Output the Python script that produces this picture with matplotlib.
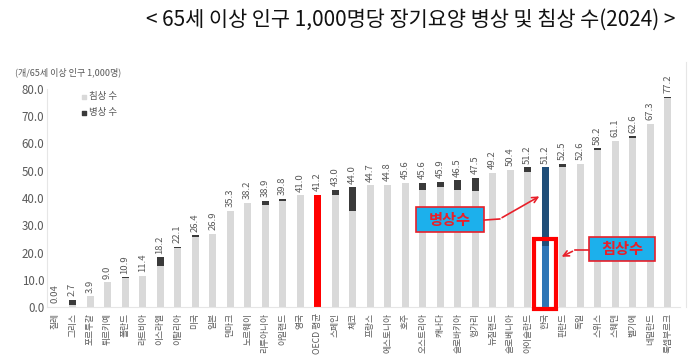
import matplotlib
matplotlib.use("Agg")
import matplotlib.pyplot as plt
from matplotlib.patches import Rectangle
import numpy as np

plt.rcParams['font.family'] = ['Noto Sans CJK KR', 'DejaVu Sans']

# --- data ---
countries = ['칠레', '그리스', '포르투갈', '튀르키예', '폴란드', '라트비아', '이스라엘',
             '이탈리아', '미국', '일본', '덴마크', '노르웨이', '리투아니아', '아일랜드',
             '영국', 'OECD 평균', '스페인', '체코', '프랑스', '에스토니아', '호주',
             '오스트리아', '캐나다', '슬로바키아', '헝가리', '뉴질랜드', '슬로베니아',
             '아이슬란드', '한국', '핀란드', '독일', '스위스', '스웨덴', '벨기에',
             '네덜란드', '룩셈부르크']
totals = [0.04, 2.7, 3.9, 9.0, 10.9, 11.4, 18.2, 22.1, 26.4, 26.9, 35.3, 38.2,
          38.9, 39.8, 41.0, 41.2, 43.0, 44.0, 44.7, 44.8, 45.6, 45.6, 45.9, 46.5,
          47.5, 49.2, 50.4, 51.2, 51.2, 52.5, 52.6, 58.2, 61.1, 62.6, 67.3, 77.2]
wards = [0, 2.0, 0, 0, 0.3, 0, 3.0, 0.4, 0.8, 0, 0, 0, 1.5, 1.0, 0, 0, 1.8, 8.8,
         0, 0, 0, 2.6, 2.0, 3.4, 5.0, 0, 0, 1.8, 28.7, 1.2, 0, 0.5, 0, 0.5, 0, 0.6]
beds = [t - w for t, w in zip(totals, wards)]

oecd_idx = countries.index('OECD 평균')
korea_idx = countries.index('한국')

# --- style ---
light = '#d9d9d9'
dark = '#3a3a3a'
label_col = '#595959'

fig = plt.figure(figsize=(7.0, 3.62), dpi=100)
ax = fig.add_axes([47 / 700, 55 / 362, 633 / 700, 218 / 362])

x = np.arange(len(countries))
bed_colors = [light] * len(x)
ward_colors = [dark] * len(x)
bed_colors[oecd_idx] = '#ff0000'
bed_colors[korea_idx] = '#2e75b6'
ward_colors[korea_idx] = '#1f4e79'

ax.bar(x, beds, width=0.4, color=bed_colors, zorder=2)
ax.bar(x, wards, width=0.4, bottom=beds, color=ward_colors, zorder=2)

for xi, t in zip(x, totals):
    ax.text(xi, t + 1.3, f'{t:.2f}' if t < 0.1 else f'{t:.1f}', rotation=90,
            ha='center', va='bottom', fontsize=6.8, color=label_col)

ax.set_xlim(-0.46, 35.7)
ax.set_ylim(0, 80)
ax.set_yticks(np.arange(0, 81, 10))
ax.set_yticklabels([f'{v:.1f}' for v in np.arange(0, 81, 10)])
ax.set_xticks(x)
ax.set_xticklabels(countries, rotation=90)
ax.tick_params(axis='both', length=0, colors=label_col)
ax.tick_params(axis='y', labelsize=8.3, pad=2)
ax.tick_params(axis='x', labelsize=6.3, pad=4)

for s in ['top', 'right']:
    ax.spines[s].set_visible(False)
ax.spines['left'].set_color('#e6e6e6')
ax.spines['bottom'].set_color('#e6e6e6')

# legend
ax.scatter([1.66], [77.1], marker='s', s=10, color=light, clip_on=False)
ax.scatter([1.66], [71.2], marker='s', s=10, color=dark, clip_on=False)
ax.text(1.95, 77.1, '침상 수', fontsize=6.8, color=label_col, va='center')
ax.text(1.95, 71.2, '병상 수', fontsize=6.8, color=label_col, va='center')

# highlight box around Korea's 침상
ax.add_patch(Rectangle((27.35, -0.7), 1.25, 25.7, fill=False, edgecolor='#ff0000',
                       linewidth=3, clip_on=False, zorder=3))

# callout boxes
red = '#e8202a'
cyan = '#1cb0ec'
ax.add_patch(Rectangle((20.6, 27.5), 3.9, 9.2, facecolor=cyan, edgecolor=red,
                       linewidth=1.2, zorder=4))
ax.text(22.55, 32.1, '병상수', fontsize=11, fontweight='bold', color=red,
        ha='center', va='center', zorder=5)
ax.plot([24.5, 25.4], [31.9, 32.3], color=red, lw=1.2, zorder=4)
ax.annotate('', xy=(27.8, 41.1), xytext=(25.4, 32.3),
            arrowprops=dict(arrowstyle='->', color=red, lw=1.2), zorder=4)

ax.add_patch(Rectangle((30.5, 16.9), 3.77, 8.8, facecolor=cyan, edgecolor=red,
                       linewidth=1.2, zorder=4))
ax.text(32.4, 21.3, '침상수', fontsize=11, fontweight='bold', color=red,
        ha='center', va='center', zorder=5)
ax.plot([30.5, 29.7], [20.9, 20.9], color=red, lw=1.2, zorder=4)
ax.annotate('', xy=(28.8, 18.0), xytext=(29.7, 20.9),
            arrowprops=dict(arrowstyle='->', color=red, lw=1.2), zorder=4)

# frame line on the right
fig.add_artist(plt.Line2D([686 / 700, 686 / 700], [55 / 362, 300 / 362],
                          color='#e6e6e6', lw=0.8))

fig.text(15 / 700, 1 - 72 / 362, '(개/65세 이상 인구 1,000명)', fontsize=6.5,
         color=label_col, va='center')
fig.text(411 / 700, 1 - 20 / 362, '< 65세 이상 인구 1,000명당 장기요양 병상 및 침상 수(2024) >',
         fontsize=15, ha='center', va='center', color='#111111')

fig.savefig('out.png', dpi=100)
